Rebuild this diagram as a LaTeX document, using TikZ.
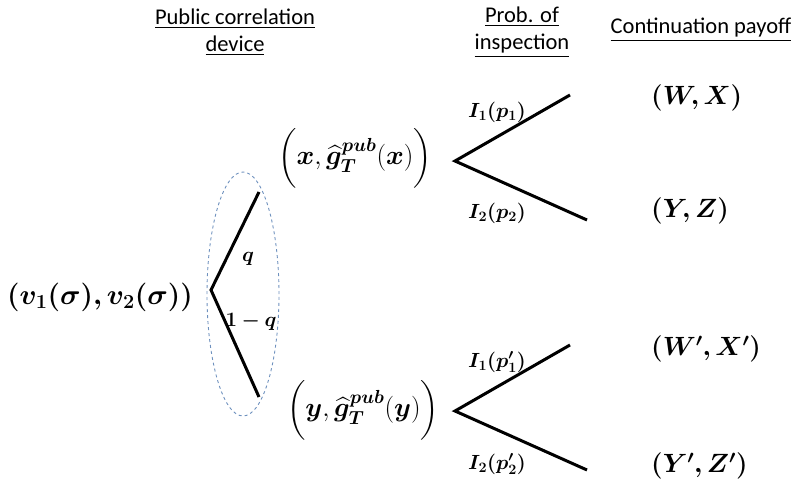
\documentclass[tikz,border=0pt]{standalone}
\usepackage{fix-cm}
\usepackage{amsmath,bm}
\usepackage[no-math]{fontspec}
\setmainfont{Carlito}
\usetikzlibrary{positioning,shapes.geometric}
\definecolor{devblue}{RGB}{110,145,190}
\tikzset{
  hdr/.style={font=\fontsize{22.5}{27}\selectfont, align=center, inner sep=0pt},
  st/.style={font=\fontsize{27}{30}\selectfont, inner sep=0pt},
  pay/.style={font=\fontsize{26.4}{30}\selectfont, inner sep=0pt, anchor=west},
  lbl/.style={font=\fontsize{20.5}{22}\selectfont, inner sep=0pt},
  br/.style={line width=3pt},
  dev/.style={ellipse, draw=devblue, dashed, line width=0.9pt, inner sep=0pt},
}
\newcommand{\gpub}[1]{\bigg(\bm{#1},\widehat{\bm g}^{\bm{pub}}_{\bm T}(\bm{#1})\bigg)}

\begin{document}
\begin{tikzpicture}[x=1pt, y=-1pt]
\useasboundingbox (0,0) rectangle (796,487);

% headers
\node[hdr] (hpcd) at (235,32) {\underline{Public correlation}\\\underline{device}};
\node[hdr] (hprob) at (522,32) {\underline{Prob. of}\\\underline{inspection}};
\node[hdr] (hcont) at (701,30) {\underline{Continuation payoff}};

% public correlation device
\node[dev, minimum width=72, minimum height=244] (pcd) at (243,294) {};
\coordinate (root) at (211,290);
\coordinate (up) at (259,192);
\coordinate (dn) at (259,397);
\node[st, font=\fontsize{28.5}{30}\selectfont] (val) at (100,297) {$\bm{(v_1(\sigma),v_2(\sigma))}$};
\draw[br] (up) -- (root) -- (dn);
\node[lbl] (lq) at (248,259) {$\bm q$};
\node[lbl] (lnq) at (251,322) {$\bm{1-q}$};

% states after the device
\node[st] (sx) at (355,158) {$\gpub{x}$};
\node[st] (sy) at (363,410) {$\gpub{y}$};

% inspection, upper
\coordinate (vx) at (455,161);
\coordinate (vx1) at (570,95);
\coordinate (vx2) at (587,220);
\draw[br] (vx1) -- (vx) -- (vx2);
\node[lbl] (ix1) at (497,112) {$\bm{I_1(p_1)}$};
\node[lbl] (ix2) at (497,213) {$\bm{I_2(p_2)}$};

% inspection, lower
\coordinate (vy) at (455,411);
\coordinate (vy1) at (570,345);
\coordinate (vy2) at (587,470);
\draw[br] (vy1) -- (vy) -- (vy2);
\node[lbl] (iy1) at (497,362) {$\bm{I_1(p'_1)}$};
\node[lbl] (iy2) at (497,464) {$\bm{I_2(p'_2)}$};

% continuation payoffs
\node[pay] (wx) at (651,98) {$\bm{(W,X)}$};
\node[pay] (yz) at (651,211) {$\bm{(Y,Z)}$};
\node[pay] (wx2) at (651,349) {$\bm{(W',X')}$};
\node[pay] (yz2) at (651,466) {$\bm{(Y',Z')}$};
\end{tikzpicture}
\end{document}
